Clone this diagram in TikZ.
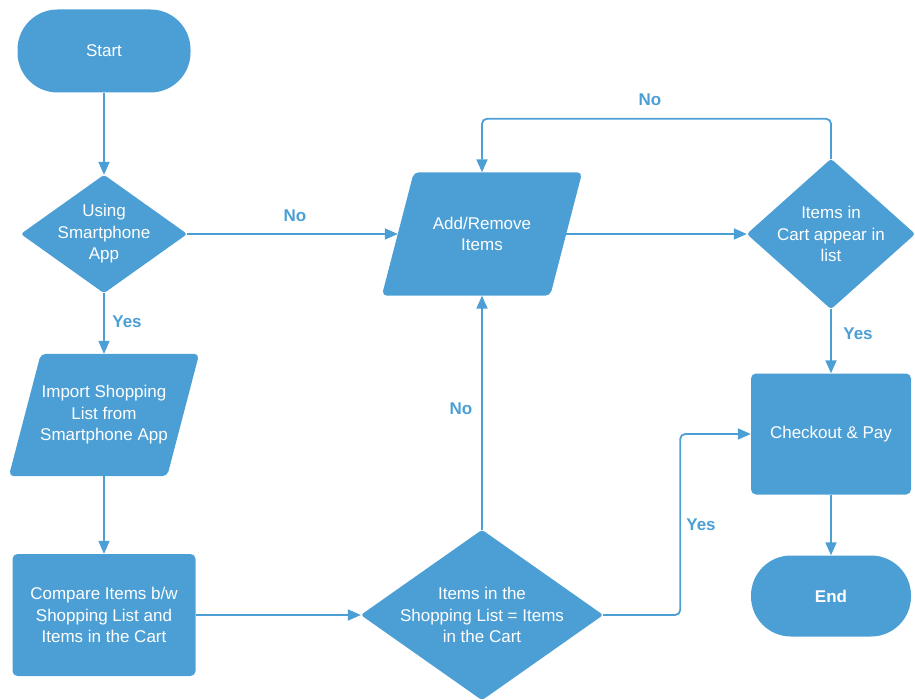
\documentclass[tikz,border=0pt]{standalone}
\usepackage{fontspec}
\setmainfont{Liberation Sans}
\usetikzlibrary{arrows.meta,calc,backgrounds}
\definecolor{flowblue}{RGB}{76,159,213}
\tikzset{
  base/.style={font=\fontsize{17}{21.5}\selectfont, text=white, align=center, inner sep=0pt},
  terminal/.style={base, fill=flowblue, rounded corners=40pt},
  process/.style={base, fill=flowblue, rounded corners=5pt},
  shapebox/.style={base},
  conn/.style={draw=flowblue, line width=1.8pt, -{Triangle[length=13pt,width=11pt]}},
  tag/.style={font=\fontsize{17}{20}\selectfont\bfseries, text=flowblue, inner sep=0pt}
}
% filled parallelogram behind an io node, slanted to the right
\newcommand{\slantfill}[2]{%
  \begin{pgfonlayer}{background}
    \fill[flowblue, rounded corners=5pt]
      ($(#1.south west)+(-#2,0)$) -- ($(#1.south east)+(-#2,0)$) --
      ($(#1.north east)+(#2,0)$) -- ($(#1.north west)+(#2,0)$) -- cycle;
  \end{pgfonlayer}}
% filled diamond behind a decision node, tips on its side midpoints
\newcommand{\diamondfill}[1]{%
  \begin{pgfonlayer}{background}
    \fill[flowblue, rounded corners=3pt]
      (#1.north) -- (#1.east) -- (#1.south) -- (#1.west) -- cycle;
  \end{pgfonlayer}}
\begin{document}
\begin{tikzpicture}[x=1pt,y=-1pt]
\useasboundingbox (0,0) rectangle (915,700);

% nodes
\node[terminal, minimum width=173pt, minimum height=83pt] (start) at (104,51) {Start};
\node[shapebox, minimum width=166pt, minimum height=118pt] (d1) at (104,234) {Using\\Smartphone\\App};
\diamondfill{d1}
\node[shapebox, minimum width=158pt, minimum height=122pt] (imp) at (104,415) {Import Shopping\\List from\\Smartphone App};
\slantfill{imp}{16pt}
\node[process, minimum width=183pt, minimum height=122pt] (cmp) at (104,615) {Compare Items b/w\\Shopping List and\\Items in the Cart};
\node[shapebox, minimum width=242pt, minimum height=170pt] (d3) at (482,615) {Items in the\\Shopping List = Items\\in the Cart};
\diamondfill{d3}
\node[shapebox, minimum width=168pt, minimum height=123pt] (add) at (482,234) {Add/Remove\\Items};
\slantfill{add}{16pt}
\node[shapebox, minimum width=168pt, minimum height=150pt] (d2) at (831,234) {Items in\\Cart appear in\\list};
\diamondfill{d2}
\node[process, minimum width=160pt, minimum height=121pt] (pay) at (831,434) {Checkout \& Pay};
\node[terminal, minimum width=160pt, minimum height=81pt, font=\fontsize{17}{21.5}\selectfont\bfseries] (end) at (831,596) {End};

% connectors
\draw[conn] (start) -- (d1);
\draw[conn] (d1) -- (imp);
\draw[conn] (imp) -- (cmp);
\draw[conn] (cmp) -- (d3);
\draw[conn] (d1.east) -- (add.west);
\draw[conn] (d3.north) -- (add.south);
\draw[conn] (add.east) -- (d2.west);
\draw[conn, rounded corners=5pt] (d2.north) -- ++(0,-40) -| (add.north);
\draw[conn] (d2.south) -- (pay.north);
\draw[conn, rounded corners=5pt] (d3.east) -- ++(77,0) |- (pay.west);
\draw[conn] (pay) -- (end);

% branch labels
\node[tag] (l1) at (295,216) {No};
\node[tag] (l2) at (127,322) {Yes};
\node[tag] (l3) at (650,100) {No};
\node[tag] (l4) at (858,334) {Yes};
\node[tag] (l5) at (461,409) {No};
\node[tag] (l6) at (701,525) {Yes};
\end{tikzpicture}
\end{document}
